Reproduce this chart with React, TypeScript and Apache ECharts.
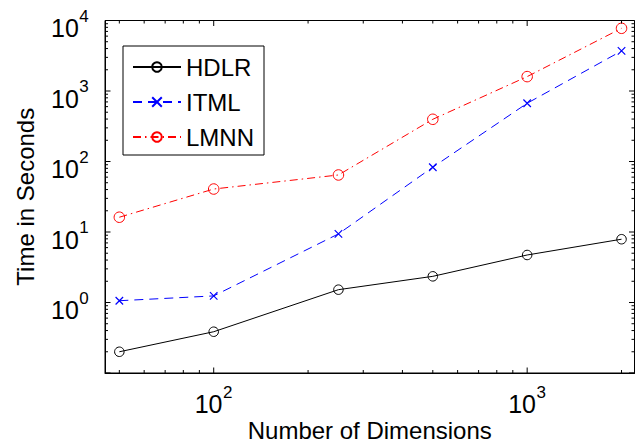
import React, { useEffect, useRef } from "react";
import * as echarts from "echarts";

const xValues = [50, 100, 250, 500, 1000, 2000];
const hdlr = [0.2, 0.385, 1.52, 2.35, 4.72, 7.9];
const itml = [1.06, 1.24, 9.4, 83, 670, 3700];
const lmnn = [16.2, 40.7, 64.4, 397, 1600, 7750];

const xMajorTicks = [100, 1000];
const xMinorTicks = [50, 60, 70, 80, 90, 200, 300, 400, 500, 600, 700, 800, 900, 2000];
const yMajorTicks = [0.1, 1, 10, 100, 1000, 10000];
const yMinorTicks = [
  0.2, 0.3, 0.4, 0.5, 0.6, 0.7, 0.8, 0.9,
  2, 3, 4, 5, 6, 7, 8, 9,
  20, 30, 40, 50, 60, 70, 80, 90,
  200, 300, 400, 500, 600, 700, 800, 900,
  2000, 3000, 4000, 5000, 6000, 7000, 8000, 9000,
];
const xLabelExponents = [2, 3];
const yLabelExponents = [0, 1, 2, 3, 4];

const FONT = "'Liberation Sans', Arial, Helvetica, sans-serif";

const pair = (xs: number[], ys: number[]) => xs.map((x, i) => [x, ys[i]]);

const expOf = (v: number): number | null => {
  const l = Math.log10(v);
  const r = Math.round(l);
  return Math.abs(l - r) < 1e-6 ? r : null;
};

// two-line label: superscript line above, base "10" line below
const rich = {
  w: { fontSize: 10, fontFamily: FONT, width: 28, lineHeight: 10, color: "rgba(0,0,0,0)" },
  s: { fontSize: 17, fontFamily: FONT, width: 10, lineHeight: 10, color: "#000", align: "left" },
  b: { fontSize: 25, fontFamily: FONT, width: 28, lineHeight: 14, color: "#000", align: "left" },
  q: { fontSize: 10, fontFamily: FONT, width: 10, lineHeight: 14, color: "rgba(0,0,0,0)" },
};
const powerLabel = (e: number) => `{w| }{s|${e}}\n{b|10}{q| }`;

export default function App() {
  const ref = useRef<HTMLDivElement>(null);
  useEffect(() => {
    document.body.style.margin = "0";
    if (!ref.current) return;
    const chart = echarts.init(ref.current, null, { renderer: "svg" });
    const tickData: number[][] = [
      ...xMajorTicks.map((v) => [v, 1, 0, 1]),
      ...xMinorTicks.map((v) => [v, 1, 0, 0]),
      ...yMajorTicks.map((v) => [100, v, 1, 1]),
      ...yMinorTicks.map((v) => [100, v, 1, 0]),
    ];
    const option: any = {
      animation: false,
      backgroundColor: "#fff",
      grid: {
        left: 105,
        right: 2.5,
        top: 20.5,
        bottom: 71,
        show: true,
        borderColor: "#000",
        borderWidth: 1,
        backgroundColor: "transparent",
        containLabel: false,
        outerBoundsMode: "none",
      },
      xAxis: {
        type: "log",
        logBase: 10,
        min: 45,
        max: 2200,
        name: "Number of Dimensions",
        nameLocation: "middle",
        nameGap: 45,
        nameMoveOverlap: false,
        nameTextStyle: { fontSize: 24, fontFamily: FONT, color: "#000", lineHeight: 24 },
        axisLine: { show: true, lineStyle: { color: "#000", width: 1 } },
        axisTick: { show: false },
        splitLine: { show: false },
        minorTick: { show: false },
        axisLabel: {
          margin: 14,
          showMinLabel: false,
          showMaxLabel: false,
          hideOverlap: false,
          formatter: (v: number) => {
            const e = expOf(v);
            return e !== null && xLabelExponents.includes(e) ? powerLabel(e) : "";
          },
          rich,
        },
      },
      yAxis: {
        type: "log",
        logBase: 10,
        min: 0.1,
        max: 10000,
        name: "Time in Seconds",
        nameLocation: "middle",
        nameGap: 68,
        nameMoveOverlap: false,
        nameTextStyle: { fontSize: 24, fontFamily: FONT, color: "#000", lineHeight: 24 },
        axisLine: { show: true, lineStyle: { color: "#000", width: 1 } },
        axisTick: { show: false },
        splitLine: { show: false },
        minorTick: { show: false },
        axisLabel: {
          margin: 16,
          padding: [5, 0, 0, 0],
          showMinLabel: false,
          showMaxLabel: true,
          hideOverlap: false,
          formatter: (v: number) => {
            const e = expOf(v);
            return e !== null && yLabelExponents.includes(e) ? powerLabel(e) : "";
          },
          rich,
        },
      },
      legend: {
        orient: "vertical",
        left: 123,
        top: 46,
        data: ["HDLR", "ITML", "LMNN"],
        itemWidth: 48,
        itemHeight: 12,
        itemGap: 9,
        padding: [8, 10, 5, 9],
        borderColor: "#000",
        borderWidth: 1,
        backgroundColor: "#fff",
        textStyle: { fontSize: 24, fontFamily: FONT, color: "#000", lineHeight: 26 },
      },
      series: [
        {
          name: "HDLR",
          type: "line",
          data: pair(xValues, hdlr),
          symbol: "circle",
          symbolSize: 9.5,
          lineStyle: { color: "#000", width: 1, type: "solid" },
          itemStyle: { color: "rgba(0,0,0,0)", borderColor: "#000", borderWidth: 1 },
          z: 3,
        },
        {
          name: "ITML",
          type: "line",
          data: pair(xValues, itml),
          symbol: "path://M0,0L10,10M10,0L0,10",
          symbolSize: 7.5,
          lineStyle: { color: "#0000ff", width: 1, type: [9, 6] },
          itemStyle: { color: "rgba(0,0,0,0)", borderColor: "#0000ff", borderWidth: 1.2 },
          z: 3,
        },
        {
          name: "LMNN",
          type: "line",
          data: pair(xValues, lmnn),
          symbol: "circle",
          symbolSize: 10.5,
          lineStyle: { color: "#ff0000", width: 1, type: [8, 4, 1.5, 4] },
          itemStyle: { color: "rgba(0,0,0,0)", borderColor: "#ff0000", borderWidth: 1 },
          z: 3,
        },
        {
          name: "ticks",
          type: "custom",
          silent: true,
          z: 4,
          encode: { x: 0, y: 1 },
          data: tickData,
          renderItem: (params: any, api: any) => {
            const cs = params.coordSys;
            const kind = api.value(2);
            const len = api.value(3) ? 5.5 : 3;
            const style = { stroke: "#000", lineWidth: 1 };
            if (kind === 0) {
              const px = api.coord([api.value(0), 1])[0];
              const yb = cs.y + cs.height;
              return {
                type: "group",
                children: [
                  { type: "line", shape: { x1: px, y1: yb, x2: px, y2: yb - len }, style },
                  { type: "line", shape: { x1: px, y1: cs.y, x2: px, y2: cs.y + len }, style },
                ],
              };
            }
            const py = api.coord([100, api.value(1)])[1];
            const xr = cs.x + cs.width;
            return {
              type: "group",
              children: [
                { type: "line", shape: { x1: cs.x, y1: py, x2: cs.x + len, y2: py }, style },
                { type: "line", shape: { x1: xr, y1: py, x2: xr - len, y2: py }, style },
              ],
            };
          },
        },
      ],
    };
    chart.setOption(option);
    return () => chart.dispose();
  }, []);
  return <div ref={ref} style={{ width: 637, height: 444 }} />;
}
